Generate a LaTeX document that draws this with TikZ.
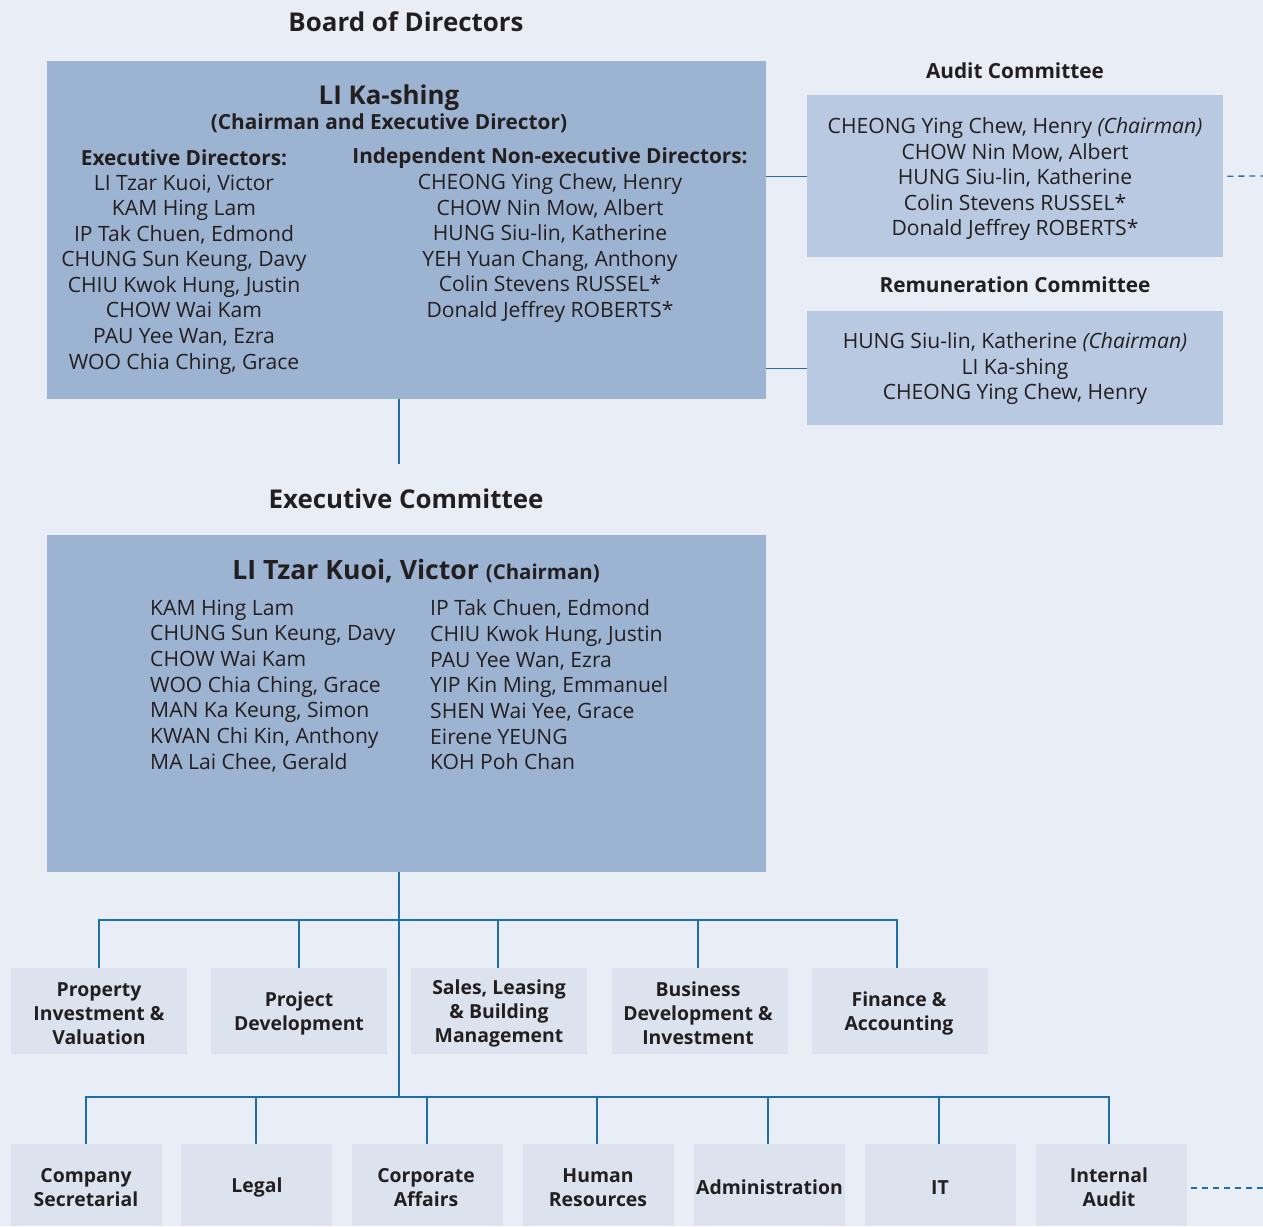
\documentclass[tikz,border=0pt]{standalone}
\usepackage{fontspec}
\setmainfont{Open Sans}
\definecolor{bg}{RGB}{233,238,246}
\definecolor{boardc}{RGB}{157,179,210}
\definecolor{commc}{RGB}{184,201,225}
\definecolor{deptc}{RGB}{220,227,239}
\definecolor{linec}{RGB}{30,110,170}
\definecolor{txt}{RGB}{35,31,32}
\tikzset{
  bigbox/.style={fill=boardc, draw=none, anchor=north west, inner sep=0pt},
  commbox/.style={fill=commc, draw=none, anchor=north west, inner sep=0pt, minimum width=416pt},
  deptbox/.style={fill=deptc, draw=none, inner sep=0pt, text=txt, align=center, font=\fontsize{19.4}{24}\selectfont\bfseries},
  topdept/.style={deptbox, minimum width=176pt, minimum height=86pt},
  botdept/.style={deptbox, minimum width=151pt, minimum height=82pt},
  title/.style={text=txt, font=\fontsize{25.9}{30}\selectfont\bfseries, inner sep=0pt},
  subtitle/.style={text=txt, font=\fontsize{20.8}{25}\selectfont\bfseries, inner sep=0pt},
  names/.style={text=txt, align=center, font=\fontsize{21.1}{25.55}\selectfont, inner sep=0pt, anchor=north},
  lnames/.style={text=txt, align=left, font=\fontsize{21.1}{25.67}\selectfont, inner sep=0pt, anchor=north west},
  conn/.style={draw=linec, line width=1.3pt},
  dashconn/.style={draw=linec, line width=1.3pt, dashed, dash pattern=on 6pt off 5pt},
}
\begin{document}
\begin{tikzpicture}[x=1pt,y=-1pt]
\fill[bg] (0,0) rectangle (1263,1226);
\useasboundingbox (0,0) rectangle (1263,1226);

% Board of Directors
\node[title] (bodt) at (406,22) {Board of Directors};
\node[bigbox, minimum width=719pt, minimum height=338pt] (board) at (47,61) {};
\node[title] (lks) at (389,97.5) {LI Ka-shing};
\node[subtitle] (lkssub) at (389,123.5) {(Chairman and Executive Director)};
\node[subtitle] (edh) at (184,157.5) {Executive Directors:};
\node[names] (edn) at (184,174.5) {LI Tzar Kuoi, Victor\\KAM Hing Lam\\IP Tak Chuen, Edmond\\CHUNG Sun Keung, Davy\\CHIU Kwok Hung, Justin\\CHOW Wai Kam\\PAU Yee Wan, Ezra\\WOO Chia Ching, Grace};
\node[subtitle] (ined) at (550,158.5) {Independent Non-executive Directors:};
\node[names] (inedn) at (550,173.5) {CHEONG Ying Chew, Henry\\CHOW Nin Mow, Albert\\HUNG Siu-lin, Katherine\\YEH Yuan Chang, Anthony\\Colin Stevens RUSSEL*\\Donald Jeffrey ROBERTS*};

% Audit Committee
\node[subtitle] (act) at (1015,70.5) {Audit Committee};
\node[commbox, minimum height=162pt] (audit) at (807,95) {};
\node[names] (auditn) at (1015,117.5) {CHEONG Ying Chew, Henry \textit{(Chairman)}\\CHOW Nin Mow, Albert\\HUNG Siu-lin, Katherine\\Colin Stevens RUSSEL*\\Donald Jeffrey ROBERTS*};

% Remuneration Committee
\node[subtitle] (rct) at (1015,284.5) {Remuneration Committee};
\node[commbox, minimum height=114pt] (remu) at (807,311) {};
\node[names] (remun) at (1015,332.5) {HUNG Siu-lin, Katherine \textit{(Chairman)}\\LI Ka-shing\\CHEONG Ying Chew, Henry};

\draw[conn] (audit.west) -- (audit.west -| board.east);
\draw[conn] (remu.west) -- (remu.west -| board.east);
\coordinate (auditend) at (1263,176);
\draw[dashconn] ([xshift=4pt]audit.east) -- (auditend);

% Executive Committee
\coordinate (bdown) at (399,399);
\coordinate (bdownend) at (399,464);
\draw[conn] (bdown) -- (bdownend);
\node[title] (ect) at (406,498.5) {Executive Committee};
\node[bigbox, minimum width=719pt, minimum height=337pt] (exec) at (47,535) {};
\node[text=txt, inner sep=0pt] (ltk) at (416,571) {\fontsize{26.6}{30}\selectfont\bfseries LI Tzar Kuoi, Victor \fontsize{20.4}{24}\selectfont(Chairman)};
\node[lnames] (ecl) at (150,599.5) {KAM Hing Lam\\CHUNG Sun Keung, Davy\\CHOW Wai Kam\\WOO Chia Ching, Grace\\MAN Ka Keung, Simon\\KWAN Chi Kin, Anthony\\MA Lai Chee, Gerald};
\node[lnames] (ecr) at (430,599.5) {IP Tak Chuen, Edmond\\CHIU Kwok Hung, Justin\\PAU Yee Wan, Ezra\\YIP Kin Ming, Emmanuel\\SHEN Wai Yee, Grace\\Eirene YEUNG\\KOH Poh Chan};

% Departments top row
\node[topdept] (d1) at (99,1011) {};
\node[topdept] (d2) at (299,1011) {};
\node[topdept] (d3) at (499,1011) {};
\node[topdept] (d4) at (700,1011) {};
\node[topdept] (d5) at (900,1011) {};
\node[deptbox, fill=none] (t1) at (99,1013.5) {Property\\Investment \&\\Valuation};
\node[deptbox, fill=none] (t2) at (299,1013.5) {Project\\Development};
\node[deptbox, fill=none] (t3) at (499,1013.5) {Sales, Leasing\\\& Building\\Management};
\node[deptbox, fill=none] (t4) at (698,1013.5) {Business\\Development \&\\Investment};
\node[deptbox, fill=none] (t5) at (899,1013.5) {Finance \&\\Accounting};

% Departments bottom row
\node[botdept] (e1) at (86.5,1185) {};
\node[botdept] (e2) at (256.5,1185) {};
\node[botdept] (e3) at (427.5,1185) {};
\node[botdept] (e4) at (598.5,1185) {};
\node[botdept] (e5) at (769.5,1185) {};
\node[botdept] (e6) at (940.5,1185) {};
\node[botdept] (e7) at (1111.5,1185) {};
\node[deptbox, fill=none] (u1) at (86,1187.5) {Company\\Secretarial};
\node[deptbox, fill=none] (u2) at (257,1187.5) {Legal};
\node[deptbox, fill=none] (u3) at (426,1187.5) {Corporate\\Affairs};
\node[deptbox, fill=none] (u4) at (598,1187.5) {Human\\Resources};
\node[deptbox, fill=none] (u5) at (769.5,1187.5) {Administration};
\node[deptbox, fill=none] (u6) at (940,1187.5) {IT};
\node[deptbox, fill=none] (u7) at (1109,1187.5) {Internal\\Audit};

% Connectors
\coordinate (edown) at (399,872);
\coordinate (bus1) at (399,920);
\coordinate (bus2) at (399,1097);
\draw[conn] (edown) -- (bus2);
\coordinate (c1) at (99,0); \coordinate (c2) at (299,0); \coordinate (c3) at (498,0);
\coordinate (c4) at (698,0); \coordinate (c5) at (897,0);
\draw[conn] (c1 |- d1.north) -- (c1 |- bus1) -- (c5 |- bus1) -- (c5 |- d5.north);
\draw[conn] (c2 |- d2.north) -- (c2 |- bus1);
\draw[conn] (c3 |- d3.north) -- (c3 |- bus1);
\draw[conn] (c4 |- d4.north) -- (c4 |- bus1);
\coordinate (f1) at (86,0); \coordinate (f2) at (256,0); \coordinate (f3) at (427,0);
\coordinate (f4) at (597,0); \coordinate (f5) at (768,0); \coordinate (f6) at (939,0);
\coordinate (f7) at (1109,0);
\draw[conn] (f1 |- e1.north) -- (f1 |- bus2) -- (f7 |- bus2) -- (f7 |- e7.north);
\draw[conn] (f2 |- e2.north) -- (f2 |- bus2);
\draw[conn] (f3 |- e3.north) -- (f3 |- bus2);
\draw[conn] (f4 |- e4.north) -- (f4 |- bus2);
\draw[conn] (f5 |- e5.north) -- (f5 |- bus2);
\draw[conn] (f6 |- e6.north) -- (f6 |- bus2);
\coordinate (iaend) at (1263,1188);
\draw[dashconn] ([xshift=4pt]e7.east |- iaend) -- (iaend);
\end{tikzpicture}
\end{document}
